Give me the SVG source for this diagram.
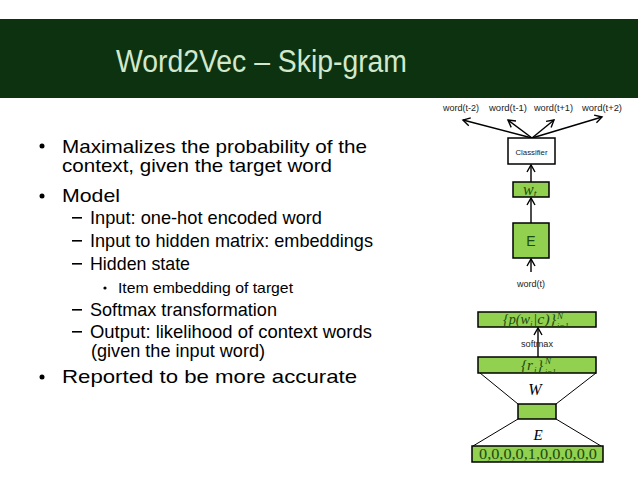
<svg xmlns="http://www.w3.org/2000/svg" width="638" height="479" viewBox="0 0 638 479">
<style>
.body{font-family:"Liberation Sans",Arial,sans-serif;fill:#000}
.lbl{font-family:"Liberation Sans",Arial,sans-serif;font-size:9px;fill:#222}
.math{font-family:"Liberation Serif","DejaVu Serif",serif;font-style:italic;fill:#1d4a10}
.sc{font-size:9px}
.gbox{fill:#92d050;stroke:#000;stroke-width:1.5}
.wbox{fill:#fff;stroke:#000;stroke-width:1.5}
.conn line{stroke:#000;stroke-width:1.4;fill:none}
.conn line.thin{stroke-width:1}
</style>
<defs>
<marker id="ah" markerUnits="userSpaceOnUse" markerWidth="12" markerHeight="12" refX="8" refY="5" orient="auto">
<path d="M1,1 L8,5 L1,9" fill="none" stroke="#000" stroke-width="1.4"/>
</marker>
<clipPath id="c1"><rect x="478" y="312" width="118" height="15"/></clipPath>
<clipPath id="c2"><rect x="478" y="357" width="118" height="16"/></clipPath>
</defs>
<rect width="638" height="479" fill="#fff"/>
<g id="banner">
<rect x="0" y="19" width="638" height="79" fill="#0c3210"/>
<text x="116" y="72" font-family="'Liberation Sans',Arial,sans-serif" font-size="31" fill="#d2e8cc" textLength="291" lengthAdjust="spacingAndGlyphs">Word2Vec – Skip-gram</text>
</g>
<g id="bullets" class="body">
<circle cx="42" cy="146" r="2.5"/>
<text x="62" y="153" font-size="19" textLength="305" lengthAdjust="spacingAndGlyphs">Maximalizes the probability of the</text>
<text x="62" y="172" font-size="19" textLength="270" lengthAdjust="spacingAndGlyphs">context, given the target word</text>
<circle cx="42" cy="196" r="2.5"/>
<text x="62" y="202" font-size="19" textLength="58" lengthAdjust="spacingAndGlyphs">Model</text>
<rect x="72" y="217" width="10" height="1.6"/>
<text x="90" y="224" font-size="19" textLength="232" lengthAdjust="spacingAndGlyphs">Input: one-hot encoded word</text>
<rect x="72" y="240" width="10" height="1.6"/>
<text x="90" y="247" font-size="19" textLength="283" lengthAdjust="spacingAndGlyphs">Input to hidden matrix: embeddings</text>
<rect x="72" y="263" width="10" height="1.6"/>
<text x="90" y="270" font-size="19" textLength="100" lengthAdjust="spacingAndGlyphs">Hidden state</text>
<circle cx="105" cy="288" r="1.6"/>
<text x="118" y="293" font-size="15" textLength="175" lengthAdjust="spacingAndGlyphs">Item embedding of target</text>
<rect x="72" y="309" width="10" height="1.6"/>
<text x="90" y="316" font-size="19" textLength="187" lengthAdjust="spacingAndGlyphs">Softmax transformation</text>
<rect x="72" y="331" width="10" height="1.6"/>
<text x="90" y="338" font-size="19" textLength="282" lengthAdjust="spacingAndGlyphs">Output: likelihood of context words</text>
<text x="91" y="357" font-size="19" textLength="174" lengthAdjust="spacingAndGlyphs">(given the input word)</text>
<circle cx="42" cy="377" r="2.5"/>
<text x="62" y="383" font-size="19" textLength="295" lengthAdjust="spacingAndGlyphs">Reported to be more accurate</text>
</g>
<g id="connectors" class="conn">
<line x1="532" y1="138" x2="463" y2="120" marker-end="url(#ah)"/>
<line x1="532" y1="138" x2="508" y2="120" marker-end="url(#ah)"/>
<line x1="532" y1="138" x2="554" y2="120" marker-end="url(#ah)"/>
<line x1="532" y1="138" x2="602" y2="117" marker-end="url(#ah)"/>
<line x1="531" y1="182" x2="531" y2="165" marker-end="url(#ah)"/>
<line x1="531" y1="223" x2="531" y2="198" marker-end="url(#ah)"/>
<line x1="531" y1="272" x2="531" y2="259" marker-end="url(#ah)"/>
<line x1="538" y1="357" x2="538" y2="328" marker-end="url(#ah)"/>
<line class="thin" x1="480" y1="373" x2="518" y2="404"/>
<line class="thin" x1="596" y1="373" x2="556" y2="404"/>
<line class="thin" x1="518" y1="419" x2="473" y2="446"/>
<line class="thin" x1="556" y1="419" x2="601" y2="446"/>
</g>
<g id="context-labels" class="lbl">
<text x="443" y="111" textLength="36" lengthAdjust="spacingAndGlyphs">word(t-2)</text>
<text x="489" y="111" textLength="38" lengthAdjust="spacingAndGlyphs">word(t-1)</text>
<text x="534" y="111" textLength="39" lengthAdjust="spacingAndGlyphs">word(t+1)</text>
<text x="582" y="111" textLength="40" lengthAdjust="spacingAndGlyphs">word(t+2)</text>
</g>
<g id="classifier">
<rect class="wbox" x="508" y="138" width="47" height="26"/>
<text x="531.5" y="155" text-anchor="middle" font-family="'Liberation Sans',Arial,sans-serif" font-size="8" fill="#222" textLength="32" lengthAdjust="spacingAndGlyphs">Classifier</text>
</g>
<g id="wt">
<rect class="gbox" x="513" y="182" width="36" height="15"/>
<text class="math" x="523" y="195" font-size="16">w<tspan font-size="10" dy="2">t</tspan></text>
</g>
<g id="E">
<rect class="gbox" x="513" y="223" width="36" height="35"/>
<text x="531" y="246" text-anchor="middle" font-family="'Liberation Sans',Arial,sans-serif" font-size="14" fill="#1d4a10">E</text>
</g>
<g id="word-t">
<text class="lbl" x="531" y="287" text-anchor="middle" textLength="28" lengthAdjust="spacingAndGlyphs">word(t)</text>
</g>
<g id="prob">
<rect class="gbox" x="478" y="312" width="118" height="15"/>
<g clip-path="url(#c1)" class="math">
<text x="503" y="324" font-size="15" textLength="27" lengthAdjust="spacingAndGlyphs">{p(w</text>
<text class="sc" x="530" y="326.5">i</text>
<text x="533" y="324" font-size="15" textLength="23" lengthAdjust="spacingAndGlyphs">|c)}</text>
<text class="sc" x="557" y="318.5">N</text>
<text class="sc" x="557" y="328.5" textLength="12" lengthAdjust="spacingAndGlyphs">i=1</text>
</g>
</g>
<g id="softmax-label">
<text class="lbl" x="537" y="347" text-anchor="middle" textLength="32" lengthAdjust="spacingAndGlyphs">softmax</text>
</g>
<g id="r">
<rect class="gbox" x="478" y="357" width="118" height="16"/>
<g clip-path="url(#c2)" class="math">
<text x="521" y="370" font-size="15" textLength="12" lengthAdjust="spacingAndGlyphs">{r</text>
<text class="sc" x="534" y="372.5">i</text>
<text x="537" y="370" font-size="15">}</text>
<text class="sc" x="545" y="364">N</text>
<text class="sc" x="545" y="374.5" textLength="11" lengthAdjust="spacingAndGlyphs">i=1</text>
</g>
</g>
<g id="W-label">
<text class="math" x="535" y="395" text-anchor="middle" font-size="16" style="fill:#000">W</text>
</g>
<g id="hidden">
<rect class="gbox" x="518" y="404" width="38" height="15"/>
</g>
<g id="E-label">
<text class="math" x="538" y="440" text-anchor="middle" font-size="15" style="fill:#000">E</text>
</g>
<g id="onehot">
<rect class="gbox" x="472" y="446" width="131" height="16"/>
<text x="538" y="459" text-anchor="middle" font-family="'Liberation Serif','DejaVu Serif',serif" font-size="14" fill="#1d4a10" textLength="118" lengthAdjust="spacingAndGlyphs">0,0,0,0,1,0,0,0,0,0</text>
</g>
</svg>
